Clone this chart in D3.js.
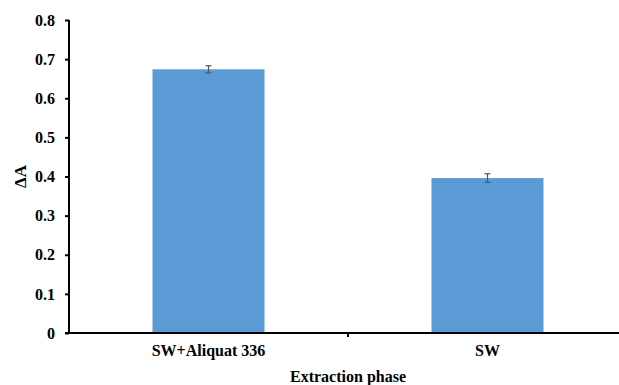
<!DOCTYPE html>
<html lang="en">
<head>
    <meta charset="UTF-8">
    <title>extraction phase bar chart</title>
    <script src="https://cdn.jsdelivr.net/npm/d3@7"></script>
    <style>
        body { margin: 0; background: #fff; }
    </style>
</head>
<body>
    <svg id="main" width="619" height="385"></svg>
    <script>
        // data
        let phases = ["SW+Aliquat 336", "SW"]
        let deltaA = [0.674, 0.396]
        let errs = [0.009, 0.011]
        let yTicks = [0, 0.1, 0.2, 0.3, 0.4, 0.5, 0.6, 0.7, 0.8]

        let svg = d3.select("#main")
        let mLeft = 69, mRight = 627, mTop = 20, mBottom = 333

        let x = d3.scaleBand().domain(phases).range([mLeft, mRight]).paddingInner(0).paddingOuter(0)
        let y = d3.scaleLinear().domain([0, 0.8]).range([mBottom, mTop])
        let barW = 112

        function serif(sel, size) {
            sel.style("font-family", "Liberation Serif")
                .style("font-weight", "bold")
                .style("font-size", size + "px")
                .attr("fill", "#000")
        }

        // bars
        svg.selectAll(".bar")
            .data(phases)
            .enter()
            .append("rect")
            .attr("class", "bar")
            .attr("x", d => x(d) + x.bandwidth() / 2 - barW / 2)
            .attr("width", barW)
            .attr("y", (d, i) => y(deltaA[i]))
            .attr("height", (d, i) => y(0) - y(deltaA[i]))
            .attr("fill", "#5b9bd5")

        // error bars
        let eb = svg.append("g").attr("stroke", "#555").attr("stroke-width", 1.2)
        phases.forEach(function (p, i) {
            let cx = x(p) + x.bandwidth() / 2
            eb.append("line").attr("x1", cx).attr("x2", cx)
                .attr("y1", y(deltaA[i] + errs[i])).attr("y2", y(deltaA[i] - errs[i]))
            eb.append("line").attr("x1", cx - 3).attr("x2", cx + 3)
                .attr("y1", y(deltaA[i] + errs[i])).attr("y2", y(deltaA[i] + errs[i]))
            eb.append("line").attr("x1", cx - 3).attr("x2", cx + 3)
                .attr("y1", y(deltaA[i] - errs[i])).attr("y2", y(deltaA[i] - errs[i]))
        })

        // y axis
        let yAxis = svg.append("g")
            .attr("transform", `translate(${mLeft},0)`)
            .call(d3.axisLeft(y).tickValues(yTicks).tickSize(4).tickPadding(10)
                .tickFormat(d => d === 0 ? "0" : d3.format(".1f")(d)))
        yAxis.select(".domain").attr("stroke", "#000").attr("stroke-width", 2)
            .attr("d", `M0,${mTop}V${mBottom}`)
        yAxis.selectAll(".tick line").attr("stroke", "#000").attr("stroke-width", 2)
        serif(yAxis.selectAll(".tick text"), 16)

        // x axis
        let xAxis = svg.append("g")
            .attr("transform", `translate(0,${mBottom})`)
            .call(d3.axisBottom(x).tickSize(0).tickPadding(12))
        xAxis.select(".domain").attr("stroke", "#000").attr("stroke-width", 2)
            .attr("d", `M${mLeft - 4},0H${mRight}`)
        serif(xAxis.selectAll(".tick text"), 16)
        // divider tick between the categories
        xAxis.append("line")
            .attr("x1", x(phases[1])).attr("x2", x(phases[1]))
            .attr("y1", 0).attr("y2", 4)
            .attr("stroke", "#000").attr("stroke-width", 2)

        // axis titles
        svg.append("text")
            .attr("x", (mLeft + mRight) / 2)
            .attr("y", 382)
            .attr("text-anchor", "middle")
            .call(serif, 16)
            .text("Extraction phase")

        svg.append("text")
            .attr("transform", `translate(26,${(mTop + mBottom) / 2}) rotate(-90)`)
            .attr("text-anchor", "middle")
            .call(serif, 17)
            .text("ΔA")
    </script>
</body>
</html>
